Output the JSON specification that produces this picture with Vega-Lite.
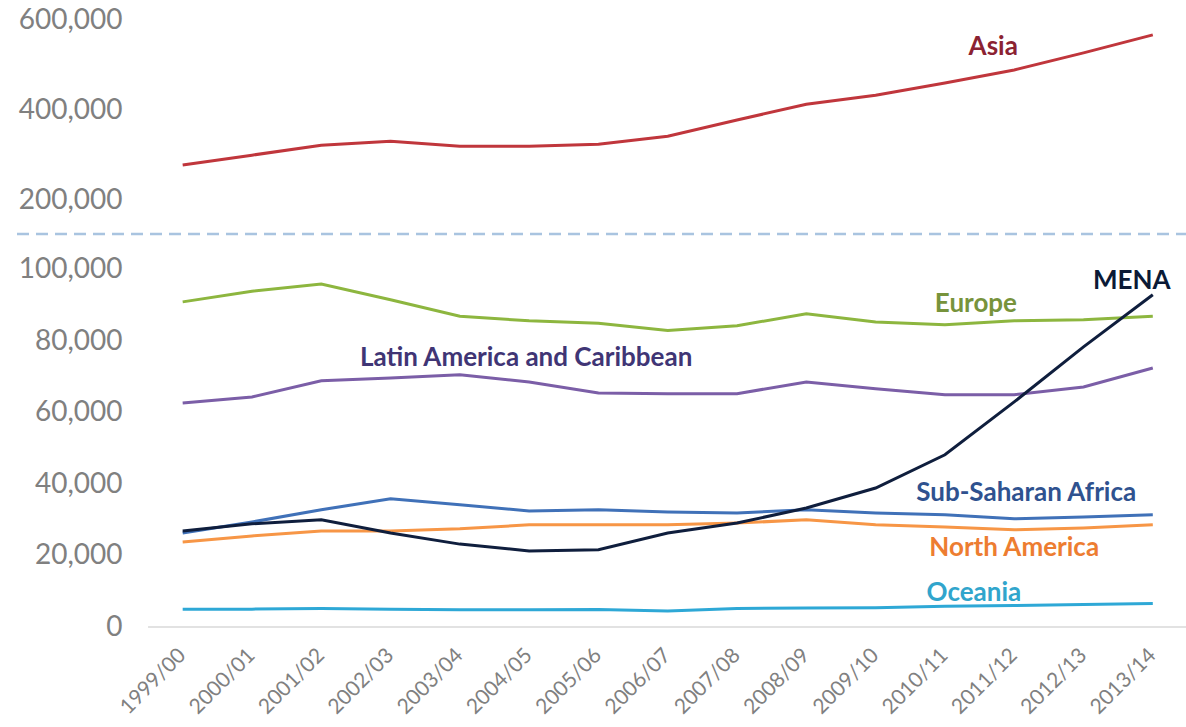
{
  "$schema": "https://vega.github.io/schema/vega-lite/v6.json",
  "padding": {"top": 6, "left": 8, "right": 0, "bottom": 0},
  "background": "white",
  "config": {"view": {"stroke": null}, "font": "Lato"},
  "datasets": {
    "series": [
      {"period":"1999/00","region":"Asia","value":278000},{"period":"2000/01","region":"Asia","value":300000},{"period":"2001/02","region":"Asia","value":322000},{"period":"2002/03","region":"Asia","value":331000},{"period":"2003/04","region":"Asia","value":320000},{"period":"2004/05","region":"Asia","value":320000},{"period":"2005/06","region":"Asia","value":324000},{"period":"2006/07","region":"Asia","value":342000},{"period":"2007/08","region":"Asia","value":378000},{"period":"2008/09","region":"Asia","value":413000},{"period":"2009/10","region":"Asia","value":433000},{"period":"2010/11","region":"Asia","value":460000},{"period":"2011/12","region":"Asia","value":489000},{"period":"2012/13","region":"Asia","value":527000},{"period":"2013/14","region":"Asia","value":567000},
      {"period":"1999/00","region":"Europe","value":91000},{"period":"2000/01","region":"Europe","value":94000},{"period":"2001/02","region":"Europe","value":96000},{"period":"2002/03","region":"Europe","value":91600},{"period":"2003/04","region":"Europe","value":87000},{"period":"2004/05","region":"Europe","value":85700},{"period":"2005/06","region":"Europe","value":85000},{"period":"2006/07","region":"Europe","value":83000},{"period":"2007/08","region":"Europe","value":84300},{"period":"2008/09","region":"Europe","value":87700},{"period":"2009/10","region":"Europe","value":85400},{"period":"2010/11","region":"Europe","value":84600},{"period":"2011/12","region":"Europe","value":85700},{"period":"2012/13","region":"Europe","value":86000},{"period":"2013/14","region":"Europe","value":87000},
      {"period":"1999/00","region":"Latin America and Caribbean","value":62700},{"period":"2000/01","region":"Latin America and Caribbean","value":64400},{"period":"2001/02","region":"Latin America and Caribbean","value":68900},{"period":"2002/03","region":"Latin America and Caribbean","value":69700},{"period":"2003/04","region":"Latin America and Caribbean","value":70600},{"period":"2004/05","region":"Latin America and Caribbean","value":68600},{"period":"2005/06","region":"Latin America and Caribbean","value":65500},{"period":"2006/07","region":"Latin America and Caribbean","value":65300},{"period":"2007/08","region":"Latin America and Caribbean","value":65300},{"period":"2008/09","region":"Latin America and Caribbean","value":68600},{"period":"2009/10","region":"Latin America and Caribbean","value":66700},{"period":"2010/11","region":"Latin America and Caribbean","value":65000},{"period":"2011/12","region":"Latin America and Caribbean","value":65000},{"period":"2012/13","region":"Latin America and Caribbean","value":67200},{"period":"2013/14","region":"Latin America and Caribbean","value":72500},
      {"period":"1999/00","region":"Sub-Saharan Africa","value":26300},{"period":"2000/01","region":"Sub-Saharan Africa","value":29400},{"period":"2001/02","region":"Sub-Saharan Africa","value":32800},{"period":"2002/03","region":"Sub-Saharan Africa","value":35900},{"period":"2003/04","region":"Sub-Saharan Africa","value":34200},{"period":"2004/05","region":"Sub-Saharan Africa","value":32500},{"period":"2005/06","region":"Sub-Saharan Africa","value":32800},{"period":"2006/07","region":"Sub-Saharan Africa","value":32200},{"period":"2007/08","region":"Sub-Saharan Africa","value":31900},{"period":"2008/09","region":"Sub-Saharan Africa","value":32800},{"period":"2009/10","region":"Sub-Saharan Africa","value":31900},{"period":"2010/11","region":"Sub-Saharan Africa","value":31400},{"period":"2011/12","region":"Sub-Saharan Africa","value":30300},{"period":"2012/13","region":"Sub-Saharan Africa","value":30800},{"period":"2013/14","region":"Sub-Saharan Africa","value":31400},
      {"period":"1999/00","region":"North America","value":23800},{"period":"2000/01","region":"North America","value":25500},{"period":"2001/02","region":"North America","value":26900},{"period":"2002/03","region":"North America","value":26900},{"period":"2003/04","region":"North America","value":27500},{"period":"2004/05","region":"North America","value":28600},{"period":"2005/06","region":"North America","value":28600},{"period":"2006/07","region":"North America","value":28600},{"period":"2007/08","region":"North America","value":29100},{"period":"2008/09","region":"North America","value":30000},{"period":"2009/10","region":"North America","value":28600},{"period":"2010/11","region":"North America","value":28000},{"period":"2011/12","region":"North America","value":27200},{"period":"2012/13","region":"North America","value":27700},{"period":"2013/14","region":"North America","value":28600},
      {"period":"1999/00","region":"Oceania","value":5000},{"period":"2000/01","region":"Oceania","value":5000},{"period":"2001/02","region":"Oceania","value":5200},{"period":"2002/03","region":"Oceania","value":5000},{"period":"2003/04","region":"Oceania","value":4800},{"period":"2004/05","region":"Oceania","value":4800},{"period":"2005/06","region":"Oceania","value":4900},{"period":"2006/07","region":"Oceania","value":4500},{"period":"2007/08","region":"Oceania","value":5200},{"period":"2008/09","region":"Oceania","value":5300},{"period":"2009/10","region":"Oceania","value":5400},{"period":"2010/11","region":"Oceania","value":5800},{"period":"2011/12","region":"Oceania","value":6000},{"period":"2012/13","region":"Oceania","value":6300},{"period":"2013/14","region":"Oceania","value":6600},
      {"period":"1999/00","region":"MENA","value":26900},{"period":"2000/01","region":"MENA","value":28900},{"period":"2001/02","region":"MENA","value":30000},{"period":"2002/03","region":"MENA","value":26300},{"period":"2003/04","region":"MENA","value":23200},{"period":"2004/05","region":"MENA","value":21300},{"period":"2005/06","region":"MENA","value":21600},{"period":"2006/07","region":"MENA","value":26300},{"period":"2007/08","region":"MENA","value":29100},{"period":"2008/09","region":"MENA","value":33300},{"period":"2009/10","region":"MENA","value":38900},{"period":"2010/11","region":"MENA","value":48200},{"period":"2011/12","region":"MENA","value":63000},{"period":"2012/13","region":"MENA","value":78400},{"period":"2013/14","region":"MENA","value":93000}
    ],
    "labels": [
      {"region":"Asia","period":"2011/12","value":540000},
      {"region":"Europe","period":"2010/11","value":90500},
      {"region":"MENA","period":"2013/14","value":96900},
      {"region":"Latin America and Caribbean","period":"2004/05","value":75400},
      {"region":"Sub-Saharan Africa","period":"2011/12","value":37500},
      {"region":"North America","period":"2011/12","value":22100},
      {"region":"Oceania","period":"2010/11","value":9500}
    ],
    "baseline": [{"from":"1999/00","to":"2013/14"}]
  },
  "vconcat": [
    {
      "width": 1178,
      "height": 214,
      "layer": [
        {
          "data": {"name": "series"},
          "transform": [{"filter": "datum.region === 'Asia'"}],
          "mark": {"type": "line", "strokeWidth": 3, "color": "#c0363c"},
          "encoding": {
            "x": {"field": "period", "type": "ordinal", "axis": null,
              "scale": {"type": "band", "domain": ["1999/00","2000/01","2001/02","2002/03","2003/04","2004/05","2005/06","2006/07","2007/08","2008/09","2009/10","2010/11","2011/12","2012/13","2013/14"], "paddingInner": 0, "paddingOuter": 1.045, "align": 0.996}},
            "y": {"field": "value", "type": "quantitative",
              "scale": {"domain": [125000, 600000], "nice": false, "zero": false},
              "axis": {"values": [200000, 400000, 600000], "format": ",d", "title": null, "offset": -112, "labelPadding": 0, "ticks": false, "domain": false, "grid": false, "labelFont": "Lato", "labelFontSize": 28, "labelColor": "#808080"}}
          }
        },
        {
          "data": {"name": "labels"},
          "transform": [{"filter": "datum.region === 'Asia'"}],
          "mark": {"type": "text", "font": "Lato", "fontWeight": "bold", "fontSize": 26, "color": "#8b2232", "dx": -21, "align": "center", "baseline": "middle"},
          "encoding": {
            "x": {"field": "period", "type": "ordinal"},
            "y": {"field": "value", "type": "quantitative"},
            "text": {"field": "region"}
          }
        }
      ]
    },
    {
      "width": 1178,
      "height": 393,
      "layer": [
        {
          "data": {"name": "baseline"},
          "mark": {"type": "rule", "color": "#d9d9d9", "strokeWidth": 1.5},
          "encoding": {
            "x": {"field": "from", "type": "ordinal", "bandPosition": 0},
            "x2": {"field": "to", "bandPosition": 1},
            "y": {"datum": 0}
          }
        },
        {
          "data": {"name": "baseline"},
          "mark": {"type": "rule", "color": "#a9c4e0", "strokeWidth": 2.5, "strokeDash": [12, 7]},
          "encoding": {
            "y": {"datum": 110000}
          }
        },
        {
          "data": {"name": "series"},
          "transform": [{"filter": "datum.region !== 'Asia'"}],
          "mark": {"type": "line", "strokeWidth": 3},
          "encoding": {
            "x": {"field": "period", "type": "ordinal",
              "scale": {"type": "band", "domain": ["1999/00","2000/01","2001/02","2002/03","2003/04","2004/05","2005/06","2006/07","2007/08","2008/09","2009/10","2010/11","2011/12","2012/13","2013/14"], "paddingInner": 0, "paddingOuter": 1.045, "align": 0.996},
              "axis": {"title": null, "labelAngle": -45, "labelFont": "Lato", "labelFontSize": 21, "labelColor": "#808080", "ticks": false, "domain": false, "grid": false, "labelPadding": 25}},
            "y": {"field": "value", "type": "quantitative",
              "scale": {"domain": [0, 110000], "nice": false},
              "axis": {"values": [0, 20000, 40000, 60000, 80000, 100000], "format": ",d", "title": null, "offset": -112, "labelPadding": 0, "ticks": false, "domain": false, "grid": false, "labelFont": "Lato", "labelFontSize": 28, "labelColor": "#808080"}},
            "color": {"field": "region", "type": "nominal", "legend": null,
              "scale": {"domain": ["Europe","Latin America and Caribbean","Sub-Saharan Africa","North America","Oceania","MENA"], "range": ["#8db63f","#7b5ea7","#4071b8","#f79646","#2ea8d6","#0f1e3d"]}}
          }
        },
        {
          "data": {"name": "labels"},
          "transform": [{"filter": "datum.region === 'Europe'"}],
          "mark": {"type": "text", "font": "Lato", "fontWeight": "bold", "fontSize": 26, "color": "#77933c", "dx": 31},
          "encoding": {"x": {"field": "period", "type": "ordinal"}, "y": {"field": "value", "type": "quantitative"}, "text": {"field": "region"}}
        },
        {
          "data": {"name": "labels"},
          "transform": [{"filter": "datum.region === 'MENA'"}],
          "mark": {"type": "text", "font": "Lato", "fontWeight": "bold", "fontSize": 26, "color": "#0b1a36", "dx": -21},
          "encoding": {"x": {"field": "period", "type": "ordinal"}, "y": {"field": "value", "type": "quantitative"}, "text": {"field": "region"}}
        },
        {
          "data": {"name": "labels"},
          "transform": [{"filter": "datum.region === 'Latin America and Caribbean'"}],
          "mark": {"type": "text", "font": "Lato", "fontWeight": "bold", "fontSize": 26, "color": "#403575", "dx": -3},
          "encoding": {"x": {"field": "period", "type": "ordinal"}, "y": {"field": "value", "type": "quantitative"}, "text": {"field": "region"}}
        },
        {
          "data": {"name": "labels"},
          "transform": [{"filter": "datum.region === 'Sub-Saharan Africa'"}],
          "mark": {"type": "text", "font": "Lato", "fontWeight": "bold", "fontSize": 26, "color": "#2f528f", "dx": 12},
          "encoding": {"x": {"field": "period", "type": "ordinal"}, "y": {"field": "value", "type": "quantitative"}, "text": {"field": "region"}}
        },
        {
          "data": {"name": "labels"},
          "transform": [{"filter": "datum.region === 'North America'"}],
          "mark": {"type": "text", "font": "Lato", "fontWeight": "bold", "fontSize": 26, "color": "#ed7d31", "dx": 0},
          "encoding": {"x": {"field": "period", "type": "ordinal"}, "y": {"field": "value", "type": "quantitative"}, "text": {"field": "region"}}
        },
        {
          "data": {"name": "labels"},
          "transform": [{"filter": "datum.region === 'Oceania'"}],
          "mark": {"type": "text", "font": "Lato", "fontWeight": "bold", "fontSize": 26, "color": "#31a5cc", "dx": 29},
          "encoding": {"x": {"field": "period", "type": "ordinal"}, "y": {"field": "value", "type": "quantitative"}, "text": {"field": "region"}}
        }
      ]
    }
  ],
  "spacing": 0,
  "bounds": "flush"
}
